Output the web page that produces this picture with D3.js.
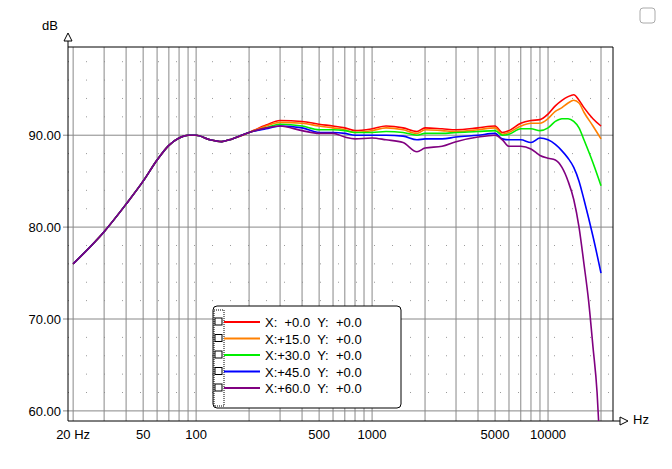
<!DOCTYPE html>
<html><head><meta charset="utf-8">
<script src="https://cdn.jsdelivr.net/npm/d3@7"></script>
<style>body{margin:0;background:#fff}text{font-family:Arial,"Liberation Sans",sans-serif;font-size:13px}</style>
</head><body><svg id="c" width="672" height="469"></svg>
<script>
const lowF=[20,30,40,50,60,70,80,90,100,120,140,160,200];
const lowV=[76,79.5,82.5,85,87.3,88.9,89.7,90,90,89.5,89.3,89.6,90.3];
const f0=[250,300,400,500,600,700,800,1000,1200,1500,1800,2000,2500,3000,4000,5000,5500,6000,7000,8000,9000,10000,11000,12000,13000,14000,15000,16000,18000,20000];
const red=[91.1,91.6,91.5,91.2,91,90.8,90.5,90.7,91,90.8,90.4,90.8,90.7,90.6,90.8,91,90.3,90.5,91.3,91.6,91.7,92.3,93.2,93.8,94.2,94.4,93.8,93,91.8,91];
const orange=[91,91.4,91.3,91,90.8,90.6,90.3,90.5,90.8,90.6,90.2,90.6,90.5,90.4,90.6,90.8,90.1,90.3,91,91.3,91.3,91.8,92.6,93,93.5,93.8,93.5,92.5,91,89.6];
const green=[90.8,91.2,91,90.6,90.6,90.5,90.3,90.3,90.4,90.3,90,90.2,90.2,90.3,90.4,90.5,90,90.1,90.7,90.7,90.5,90.8,91.5,91.8,91.8,91.5,90.8,89.5,87,84.5];
const blue=[90.7,91,90.8,90.3,90.3,90.2,90,90,90,89.9,89.5,89.6,89.6,89.8,90,90.2,89.6,89.5,89.5,89.2,89.7,89.5,89,88.3,87.5,86.5,85,83,79,75];
const purpleF=[250,300,400,500,600,700,800,1000,1200,1500,1800,2000,2500,3000,4000,5000,5500,6000,7000,8000,9000,10000,11000,12000,13000,14000,15000,16000,17000,18000,19000,19500];
const purple=[90.8,91,90.5,90.2,90.2,89.8,89.6,89.7,89.5,89.2,88.2,88.6,88.8,89.3,89.8,90,89.5,88.8,88.8,88.5,87.8,87.5,87.3,86.5,85,83,80,76,72,67,62,58];
const labels=["X:  +0.0  Y:  +0.0","X:+15.0  Y:  +0.0","X:+30.0  Y:  +0.0","X:+45.0  Y:  +0.0","X:+60.0  Y:  +0.0"];
const colors=["#ff0000","#ff8000","#00ee00","#0000ff","#800080"];
const yTicks=[60,70,80,90];
const xTickLabels=[[20,"20 Hz"],[50,"50"],[100,"100"],[500,"500"],[1000,"1000"],[5000,"5000"],[10000,"10000"]];

const svg=d3.select("#c");
const L=68,R=613,T=47,B=421;
const x=d3.scaleLog().domain([18.7,23400]).range([L,R]);
const y=d3.scaleLinear().domain([58.9,99.6]).range([B,T]);
const g=svg.append("g");
for(let v=62;v<100;v+=2){ if(v%10) g.append("line").attr("x1",L).attr("x2",R).attr("y1",y(v)).attr("y2",y(v)).attr("stroke","#999").attr("stroke-dasharray","1,17"); }
const vg=[];[10,100,1000,10000].forEach(d=>{for(let k=1;k<10;k++){const f=d*k;if(f>=20&&f<=20000)vg.push(f);}});
vg.forEach(f=>g.append("line").attr("x1",x(f)).attr("x2",x(f)).attr("y1",T).attr("y2",B).attr("stroke","#888"));
yTicks.forEach(v=>{g.append("line").attr("x1",L-5).attr("x2",R).attr("y1",y(v)).attr("y2",y(v)).attr("stroke","#888");
 g.append("text").attr("x",L-7).attr("y",y(v)+5).attr("text-anchor","end").text(v.toFixed(2));});
xTickLabels.forEach(([f,t])=>g.append("text").attr("x",x(f)).attr("y",B+18).attr("text-anchor","middle").text(t));
g.append("line").attr("x1",L).attr("x2",R).attr("y1",T).attr("y2",T).attr("stroke","#000");
g.append("line").attr("x1",R).attr("x2",R).attr("y1",T).attr("y2",B).attr("stroke","#000");
g.append("line").attr("x1",L).attr("x2",L).attr("y1",T-12).attr("y2",B).attr("stroke","#000");
g.append("line").attr("x1",L).attr("x2",R+7).attr("y1",B).attr("y2",B).attr("stroke","#000");
g.append("path").attr("d",`M${L-4},${T-6}L${L},${T-14}L${L+4},${T-6}Z`).attr("fill","#fff").attr("stroke","#000");
g.append("path").attr("d",`M${R+7},${B-4}L${R+15},${B}L${R+7},${B+4}Z`).attr("fill","#fff").attr("stroke","#000");
g.append("text").attr("x",42).attr("y",30).text("dB");
g.append("text").attr("x",633).attr("y",424).text("Hz");
svg.append("rect").attr("x",640).attr("y",8).attr("width",15).attr("height",15).attr("rx",3).attr("fill","#fff").attr("stroke","#aaa");
const line=d3.line().x(d=>x(d[0])).y(d=>y(d[1])).curve(d3.curveMonotoneX);
const mk=(F,V)=>lowF.map((f,i)=>[f,lowV[i]]).concat(F.map((f,i)=>[f,V[i]]));
const series=[mk(f0,red),mk(f0,orange),mk(f0,green),mk(f0,blue),mk(purpleF,purple)];
svg.append("clipPath").attr("id","cl").append("rect").attr("x",L).attr("y",T).attr("width",R-L).attr("height",B-T);
series.forEach((s,i)=>svg.append("path").attr("d",line(s)).attr("fill","none").attr("stroke",colors[i]).attr("stroke-width",1.6).attr("clip-path","url(#cl)"));
const lg=svg.append("g");
lg.append("rect").attr("x",213).attr("y",306).attr("width",188).attr("height",102).attr("rx",4).attr("fill","#fff").attr("stroke","#000");
lg.append("rect").attr("x",214).attr("y",310).attr("width",10).attr("height",96).attr("fill","none").attr("stroke","#000").attr("stroke-dasharray","1,1");
labels.forEach((t,i)=>{const yy=322+i*16.5;
 lg.append("rect").attr("x",215).attr("y",yy-4).attr("width",7).attr("height",7).attr("fill","#fff").attr("stroke","#000");
 lg.append("line").attr("x1",224).attr("x2",260).attr("y1",yy).attr("y2",yy).attr("stroke",colors[i]).attr("stroke-width",2);
 lg.append("text").attr("x",265).attr("y",yy+5).attr("xml:space","preserve").style("white-space","pre").text(t);});
</script></body></html>
